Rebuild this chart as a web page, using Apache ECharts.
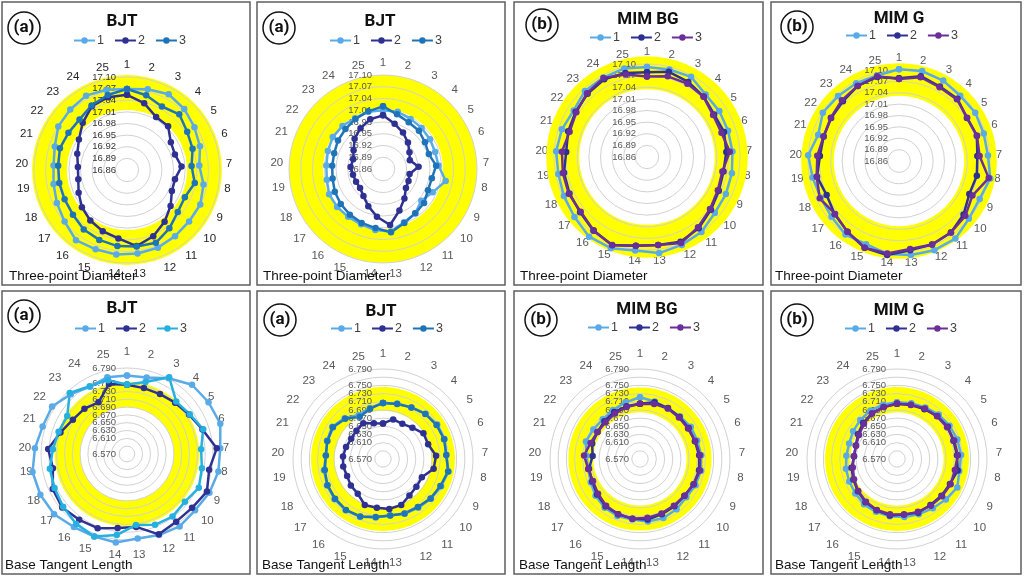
<!DOCTYPE html>
<html>
<head>
<meta charset="utf-8">
<script src="https://cdn.jsdelivr.net/npm/echarts@6/dist/echarts.min.js"></script>
<style>
html, body { margin: 0; padding: 0; background: #fff; }
#chart { width: 1024px; height: 577px; }
</style>
</head>
<body>
<div id="chart"></div>
<script>
// categories (measuring positions) and radial axis settings [min, max, step, outer limit for the lines]
var cats = ['1','2','3','4','5','6','7','8','9','10','11','12','13','14','15','16','17','18','19','20','21','22','23','24','25'];
var diaAxis = [16.86, 17.10, 0.03, 17.13];
var btlAxis = [6.57, 6.79, 0.02, 6.83];

// tolerance bands [lower, upper]
var bandDiaBjt1 = [17.015, 17.105];
var bandDiaBjt2 = [17.013, 17.100];
var bandDiaMimBg = [17.035, 17.120];
var bandDiaMimG = [17.032, 17.118];
var bandBtlBjt1 = [6.690, 6.755];
var bandBtlBjt2 = [6.688, 6.746];
var bandBtlMimBg = [6.684, 6.745];
var bandBtlMimG = [6.684, 6.746];

// Three-point Diameter
var diaBjt1_1 = [17.069, 17.075, 17.083, 17.076, 17.066, 17.058, 17.047, 17.061, 17.069, 17.068, 17.071, 17.076, 17.077, 17.080, 17.080, 17.084, 17.069, 17.060, 17.053, 17.050, 17.056, 17.070, 17.074, 17.079, 17.074];
var diaBjt1_2 = [17.054, 17.038, 17.016, 17.015, 16.994, 16.990, 17.001, 16.986, 16.988, 17.006, 17.025, 17.044, 17.058, 17.038, 17.030, 17.021, 17.011, 16.998, 16.988, 16.987, 16.995, 17.007, 17.027, 17.048, 17.054];
var diaBjt1_3 = [17.069, 17.059, 17.047, 17.057, 17.044, 17.038, 17.027, 17.038, 17.025, 17.030, 17.046, 17.062, 17.059, 17.058, 17.054, 17.050, 17.041, 17.038, 17.038, 17.038, 17.042, 17.039, 17.039, 17.050, 17.060];

var diaBjt2_1 = [17.010, 17.011, 17.006, 17.004, 17.002, 17.000, 17.002, 17.023, 17.000, 16.987, 17.000, 17.006, 17.021, 17.017, 17.012, 17.011, 17.012, 17.012, 17.006, 17.005, 17.008, 17.012, 17.011, 17.008, 17.011];
var diaBjt2_2 = [16.997, 16.979, 16.966, 16.953, 16.940, 16.932, 16.951, 16.929, 16.932, 16.936, 16.953, 16.974, 17.004, 16.983, 16.962, 16.945, 16.936, 16.936, 16.938, 16.943, 16.940, 16.949, 16.966, 16.979, 16.991];
var diaBjt2_3 = [17.020, 17.004, 16.996, 16.994, 16.987, 16.983, 16.996, 16.987, 16.987, 16.996, 17.000, 17.008, 17.023, 17.012, 17.008, 17.004, 17.000, 16.996, 16.991, 16.990, 16.991, 16.996, 17.000, 17.006, 17.012];

var diaMimBg_1 = [17.092, 17.093, 17.096, 17.081, 17.081, 17.080, 17.081, 17.083, 17.085, 17.087, 17.099, 17.104, 17.110, 17.103, 17.113, 17.114, 17.103, 17.097, 17.093, 17.095, 17.091, 17.084, 17.094, 17.094, 17.096];
var diaMimBg_2 = [17.079, 17.087, 17.081, 17.074, 17.065, 17.069, 17.065, 17.061, 17.065, 17.074, 17.087, 17.095, 17.089, 17.091, 17.104, 17.095, 17.084, 17.081, 17.078, 17.069, 17.074, 17.078, 17.084, 17.089, 17.084];
var diaMimBg_3 = [17.068, 17.075, 17.076, 17.073, 17.062, 17.062, 17.074, 17.058, 17.062, 17.071, 17.084, 17.099, 17.089, 17.091, 17.105, 17.094, 17.082, 17.083, 17.081, 17.080, 17.070, 17.076, 17.086, 17.093, 17.080];

var diaMimG_1 = [17.102, 17.105, 17.102, 17.096, 17.098, 17.095, 17.095, 17.105, 17.095, 17.099, 17.113, 17.113, 17.110, 17.107, 17.096, 17.100, 17.091, 17.088, 17.092, 17.100, 17.084, 17.098, 17.095, 17.094, 17.093];
var diaMimG_2 = [17.078, 17.091, 17.084, 17.085, 17.072, 17.076, 17.067, 17.069, 17.065, 17.081, 17.093, 17.097, 17.097, 17.110, 17.106, 17.091, 17.080, 17.071, 17.080, 17.069, 17.069, 17.072, 17.076, 17.086, 17.089];
var diaMimG_3 = [17.076, 17.088, 17.082, 17.083, 17.073, 17.076, 17.073, 17.101, 17.074, 17.087, 17.093, 17.097, 17.094, 17.106, 17.106, 17.091, 17.079, 17.091, 17.081, 17.076, 17.069, 17.073, 17.080, 17.086, 17.091];

// Base Tangent Length
var btlBjt1_1 = [6.771, 6.772, 6.791, 6.813, 6.817, 6.821, 6.809, 6.808, 6.803, 6.796, 6.799, 6.793, 6.788, 6.798, 6.797, 6.801, 6.812, 6.815, 6.816, 6.806, 6.797, 6.797, 6.780, 6.766, 6.773];
var btlBjt1_2 = [6.747, 6.744, 6.745, 6.750, 6.758, 6.773, 6.800, 6.784, 6.796, 6.786, 6.784, 6.791, 6.758, 6.761, 6.774, 6.778, 6.785, 6.780, 6.763, 6.772, 6.749, 6.734, 6.729, 6.721, 6.755];
var btlBjt1_3 = [6.748, 6.760, 6.794, 6.754, 6.760, 6.775, 6.760, 6.765, 6.773, 6.762, 6.768, 6.765, 6.753, 6.779, 6.797, 6.791, 6.782, 6.775, 6.771, 6.760, 6.754, 6.751, 6.784, 6.768, 6.765];

var btlBjt2_1 = [6.707, 6.710, 6.714, 6.722, 6.727, 6.728, 6.725, 6.733, 6.727, 6.722, 6.717, 6.714, 6.709, 6.714, 6.722, 6.725, 6.724, 6.721, 6.717, 6.710, 6.714, 6.717, 6.707, 6.693, 6.699];
var btlBjt2_2 = [6.657, 6.670, 6.668, 6.675, 6.687, 6.686, 6.700, 6.696, 6.675, 6.676, 6.680, 6.691, 6.693, 6.690, 6.691, 6.675, 6.672, 6.667, 6.669, 6.668, 6.665, 6.662, 6.665, 6.670, 6.660];
var btlBjt2_3 = [6.707, 6.709, 6.714, 6.721, 6.725, 6.727, 6.725, 6.732, 6.725, 6.721, 6.715, 6.713, 6.709, 6.713, 6.721, 6.724, 6.722, 6.720, 6.715, 6.710, 6.713, 6.715, 6.705, 6.688, 6.697];

var btlMimBg_1 = [6.721, 6.715, 6.711, 6.713, 6.717, 6.717, 6.720, 6.722, 6.720, 6.717, 6.722, 6.725, 6.724, 6.719, 6.720, 6.717, 6.711, 6.703, 6.699, 6.701, 6.709, 6.705, 6.703, 6.707, 6.713];
var btlMimBg_2 = [6.705, 6.713, 6.712, 6.711, 6.711, 6.711, 6.715, 6.717, 6.715, 6.711, 6.713, 6.715, 6.719, 6.717, 6.715, 6.713, 6.706, 6.699, 6.697, 6.686, 6.693, 6.693, 6.697, 6.701, 6.703];
var btlMimBg_3 = [6.705, 6.709, 6.711, 6.709, 6.709, 6.712, 6.717, 6.719, 6.715, 6.711, 6.711, 6.713, 6.715, 6.717, 6.715, 6.711, 6.703, 6.697, 6.699, 6.707, 6.697, 6.693, 6.693, 6.697, 6.701];

var btlMimG_1 = [6.709, 6.711, 6.714, 6.719, 6.722, 6.725, 6.727, 6.725, 6.733, 6.725, 6.719, 6.715, 6.713, 6.711, 6.709, 6.707, 6.702, 6.699, 6.697, 6.694, 6.693, 6.697, 6.701, 6.705, 6.707];
var btlMimG_2 = [6.705, 6.706, 6.709, 6.714, 6.717, 6.715, 6.717, 6.721, 6.713, 6.711, 6.709, 6.711, 6.707, 6.709, 6.705, 6.701, 6.694, 6.688, 6.683, 6.675, 6.676, 6.683, 6.691, 6.697, 6.701];
var btlMimG_3 = [6.705, 6.707, 6.711, 6.713, 6.715, 6.717, 6.719, 6.714, 6.715, 6.713, 6.711, 6.709, 6.707, 6.706, 6.704, 6.699, 6.693, 6.686, 6.680, 6.676, 6.675, 6.680, 6.688, 6.697, 6.701];

var lightBlue = '#5aaae8', navy = '#2e3192', midBlue = '#1f74b8', cyan = '#25b0e0', purple = '#6b2f9a';

var panels = [
    {title: 'BJT', tag: '(a)', axis: diaAxis, digits: 2, band: bandDiaBjt1, data: [diaBjt1_1, diaBjt1_2, diaBjt1_3], c3: midBlue, caption: 'Three-point Diameter'},
    {title: 'BJT', tag: '(a)', axis: diaAxis, digits: 2, band: bandDiaBjt2, data: [diaBjt2_1, diaBjt2_2, diaBjt2_3], c3: midBlue, caption: 'Three-point Diameter'},
    {title: 'MIM BG', tag: '(b)', axis: diaAxis, digits: 2, band: bandDiaMimBg, data: [diaMimBg_1, diaMimBg_2, diaMimBg_3], c3: purple, caption: 'Three-point Diameter'},
    {title: 'MIM G', tag: '(b)', axis: diaAxis, digits: 2, band: bandDiaMimG, data: [diaMimG_1, diaMimG_2, diaMimG_3], c3: purple, caption: 'Three-point Diameter'},
    {title: 'BJT', tag: '(a)', axis: btlAxis, digits: 3, band: bandBtlBjt1, data: [btlBjt1_1, btlBjt1_2, btlBjt1_3], c3: cyan, caption: 'Base Tangent Length'},
    {title: 'BJT', tag: '(a)', axis: btlAxis, digits: 3, band: bandBtlBjt2, data: [btlBjt2_1, btlBjt2_2, btlBjt2_3], c3: midBlue, caption: 'Base Tangent Length'},
    {title: 'MIM BG', tag: '(b)', axis: btlAxis, digits: 3, band: bandBtlMimBg, data: [btlMimBg_1, btlMimBg_2, btlMimBg_3], c3: purple, caption: 'Base Tangent Length'},
    {title: 'MIM G', tag: '(b)', axis: btlAxis, digits: 3, band: bandBtlMimG, data: [btlMimG_1, btlMimG_2, btlMimG_3], c3: purple, caption: 'Base Tangent Length'}
];

// page layout of each panel
var layout = [
    {box: [2, 2, 248, 283], cx: 127, cy: 170, r: 93, am: 6, tx: 122, ty: 23, lx: 73, ly: 41, gx: 24, gy: 28, capX: 9, capY: 276, dark: true},
    {box: [257, 2, 248, 283], cx: 383, cy: 169, r: 94, am: 6, tx: 380, ty: 23, lx: 329, ly: 41, gx: 279, gy: 28, capX: 263, capY: 276},
    {box: [514, 2, 249, 283], cx: 647, cy: 157, r: 93, am: 6, tx: 648, ty: 21, lx: 589, ly: 38, gx: 542, gy: 25, capX: 520, capY: 276},
    {box: [771, 2, 250, 283], cx: 899, cy: 161, r: 91, am: 6, tx: 899, ty: 20, lx: 845, ly: 36, gx: 797, gy: 27, capX: 775, capY: 276},
    {box: [2, 291, 248, 283], cx: 127, cy: 454, r: 86, am: 10, tx: 122, ty: 310, lx: 74, ly: 329, gx: 24, gy: 316, capX: 5, capY: 565},
    {box: [257, 291, 248, 283], cx: 383, cy: 459, r: 90, am: 9, tx: 381, ty: 313, lx: 330, ly: 329, gx: 280, gy: 320, capX: 262, capY: 565},
    {box: [514, 291, 249, 283], cx: 640, cy: 459, r: 90, am: 9, tx: 647, ty: 311, lx: 587, ly: 328, gx: 541, gy: 320, capX: 519, capY: 565},
    {box: [771, 291, 250, 283], cx: 897, cy: 459, r: 90, am: 9, tx: 899, ty: 312, lx: 844, ly: 329, gx: 797, gy: 320, capX: 775, capY: 565}
];

// yellow tolerance ring drawn through the polar radius scale
function renderBand(params, api) {
    var cs = params.coordSys;
    var pIn = api.coord([api.value(0), 0]);
    var pOut = api.coord([api.value(2), 0]);
    var r0 = Math.sqrt(Math.pow(pIn[0] - cs.cx, 2) + Math.pow(pIn[1] - cs.cy, 2));
    var r1 = Math.sqrt(Math.pow(pOut[0] - cs.cx, 2) + Math.pow(pOut[1] - cs.cy, 2));
    return {
        type: 'ring',
        shape: {cx: cs.cx, cy: cs.cy, r: r1, r0: r0},
        style: {fill: '#ffff00'}
    };
}

var hidden = {axisLine: {show: false}, axisTick: {show: false}, axisLabel: {show: false}, splitLine: {show: false}};

var option = {
    animation: false,
    backgroundColor: '#fff',
    title: [], legend: [], polar: [], angleAxis: [], radiusAxis: [], series: [], graphic: []
};

panels.forEach(function (p, k) {
    var L = layout[k];
    var labCol = L.dark ? '#262626' : '#595959';
    var names = ['p' + k + '-1', 'p' + k + '-2', 'p' + k + '-3'];
    var colors = [lightBlue, navy, p.c3];
    var gridIdx = 2 * k, lineIdx = 2 * k + 1;
    // the line polar shares centre and scale, but reaches further so lines are not cut at the outer ring
    var outerR = L.r * (p.axis[3] - p.axis[0]) / (p.axis[1] - p.axis[0]);

    // polar with rings, labels and the tolerance band
    option.polar.push({center: [L.cx, L.cy], radius: L.r});
    option.angleAxis.push({
        polarIndex: gridIdx, type: 'value', min: 0, max: 25, interval: 1,
        startAngle: 90, clockwise: true,
        axisLine: {show: false}, axisTick: {show: false}, splitLine: {show: false},
        axisLabel: {
            margin: L.am, fontSize: 11.5, color: labCol, fontFamily: 'Liberation Sans',
            formatter: function (v) { return cats[v] || ''; }
        }
    });
    option.radiusAxis.push({
        polarIndex: gridIdx, type: 'value', min: p.axis[0], max: p.axis[1], interval: p.axis[2], z: 3,
        axisLine: {show: false}, axisTick: {show: false},
        splitLine: {show: true, lineStyle: {color: '#d2d2d2', width: 1}},
        axisLabel: {
            margin: 11, fontSize: 9.5, color: L.dark ? '#333' : '#595959', fontFamily: 'Liberation Sans',
            showMinLabel: true, showMaxLabel: true,
            formatter: function (v) { return v.toFixed(p.digits); }
        }
    });

    // polar for the measured lines
    option.polar.push({center: [L.cx, L.cy], radius: outerR});
    option.angleAxis.push(Object.assign({polarIndex: lineIdx, type: 'value', min: 0, max: 25, interval: 1, startAngle: 90, clockwise: true}, hidden));
    option.radiusAxis.push(Object.assign({polarIndex: lineIdx, type: 'value', min: p.axis[0], max: p.axis[3]}, hidden));

    option.series.push({
        type: 'custom', coordinateSystem: 'polar', polarIndex: gridIdx, z: 1, silent: true,
        dimensions: ['lo', 'ang', 'hi'], encode: {radius: 0, angle: 1},
        data: [[p.band[0], 0, p.band[1]]],
        renderItem: renderBand
    });

    p.data.forEach(function (vals, j) {
        var pts = vals.map(function (v, i) { return [v, i]; });
        pts.push([vals[0], 25]);
        option.series.push({
            type: 'line', name: names[j], coordinateSystem: 'polar', polarIndex: lineIdx,
            data: pts, symbol: 'circle', symbolSize: 6.5, z: 4,
            lineStyle: {width: 2.5, color: colors[j]},
            itemStyle: {color: colors[j]}
        });
    });

    option.title.push({
        text: p.title, left: L.tx, top: L.ty - 10, textAlign: 'center', padding: 0,
        textStyle: {fontSize: 17, fontWeight: 'bold', fontFamily: 'Roboto', color: '#111'}
    });
    option.legend.push({
        data: names, left: L.lx, top: L.ly - 7, padding: 0,
        itemWidth: 21, itemHeight: 8, itemGap: 10, selectedMode: false,
        textStyle: {fontSize: 12.5, color: '#404040', fontFamily: 'Liberation Sans', padding: [0, 0, 0, -3]},
        formatter: function (n) { return n.split('-')[1]; }
    });

    option.graphic.push(
        {type: 'rect', silent: true, shape: {x: L.box[0], y: L.box[1], width: L.box[2], height: L.box[3]},
         style: {fill: 'none', stroke: '#5f5f5f', lineWidth: 1.5}, z: 0},
        {type: 'circle', silent: true, shape: {cx: L.gx, cy: L.gy, r: 16},
         style: {fill: '#fff', stroke: '#111', lineWidth: 1.5}, z: 10},
        {type: 'text', silent: true, x: L.gx, y: L.gy, z: 11,
         style: {text: p.tag, font: 'bold 17px Roboto', fill: '#111', align: 'center', verticalAlign: 'middle'}},
        {type: 'text', silent: true, x: L.capX, y: L.capY, z: 11,
         style: {text: p.caption, font: '13.5px "Liberation Sans"', fill: '#111', verticalAlign: 'middle'}}
    );
});

var myChart = echarts.init(document.getElementById('chart'));
myChart.setOption(option);
</script>
</body>
</html>
